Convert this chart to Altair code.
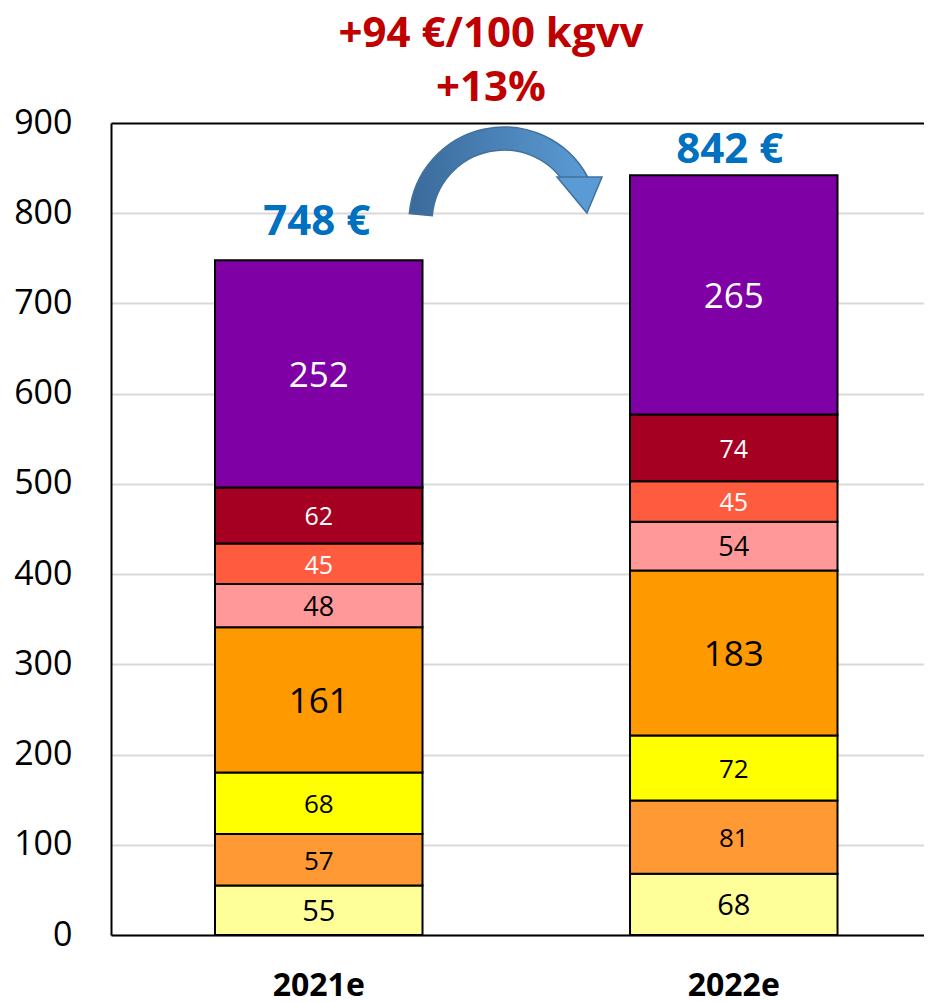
import altair as alt
import pandas as pd

years = ["2021e", "2022e"]
series = ["s1", "s2", "s3", "s4", "s5", "s6", "s7", "s8"]
values_2021 = [55, 57, 68, 161, 48, 45, 62, 252]
values_2022 = [68, 81, 72, 183, 54, 45, 74, 265]
totals = [748, 842]
total_labels = ["748 €", "842 €"]
bar_colors = ["#FFFF99", "#FF9933", "#FFFF00", "#FF9900", "#FF9999", "#FF5B3F", "#A50021", "#7F00A4"]
label_colors = ["black", "black", "black", "black", "black", "white", "white", "white"]
label_sizes = [29, 26, 26, 35, 27, 25, 25, 35]
y_ticks = [0, 100, 200, 300, 400, 500, 600, 700, 800, 900]
annotation_lines = ["+94 €/100 kgvv", "+13%"]

FONT = "Open Sans"
W, H = 813, 812

rows = []
for yr, vals in zip(years, [values_2021, values_2022]):
    for i, (s, v) in enumerate(zip(series, vals)):
        rows.append({"year": yr, "series": s, "order": i, "value": v})
df = pd.DataFrame(rows)

x_enc = alt.X(
    "year:N",
    sort=years,
    title=None,
    scale=alt.Scale(paddingInner=0.5, paddingOuter=0.2295, align=0.546),
    axis=alt.Axis(
        labelFont=FONT, labelFontSize=32, labelFontWeight="bold", labelColor="black",
        ticks=False, labelPadding=35, domainColor="black", domainWidth=2, labelAngle=0,
    ),
)
y_scale = alt.Scale(domain=[0, 900], nice=False)

base = alt.Chart(df).transform_window(
    cum="sum(value)", frame=[None, 0], groupby=["year"], sort=[{"field": "order"}]
).transform_calculate(
    y0="datum.cum - datum.value", mid="datum.cum - datum.value / 2"
)

bars = base.mark_bar(stroke="black", strokeWidth=2).encode(
    x=x_enc,
    y=alt.Y(
        "y0:Q", scale=y_scale, title=None,
        axis=alt.Axis(
            values=y_ticks, labelFont=FONT, labelFontSize=34, labelColor="black",
            ticks=False, labelPadding=39, domainColor="black", domainWidth=2,
            gridColor={"condition": {"test": "datum.value === 900", "value": "black"}, "value": "#D9D9D9"},
            gridWidth=2,
        ),
    ),
    y2="cum:Q",
    color=alt.Color("series:N", scale=alt.Scale(domain=series, range=bar_colors), legend=None),
    order=alt.Order("order:Q"),
)

# segment labels, one layer per font size
seg_layers = []
for fs in sorted(set(label_sizes)):
    group = [s for s, z in zip(series, label_sizes) if z == fs]
    seg_layers.append(
        base.transform_filter(alt.FieldOneOfPredicate(field="series", oneOf=group))
        .mark_text(font=FONT, fontSize=fs, baseline="middle", align="center", dy=2)
        .encode(
            x=alt.X("year:N", sort=years),
            y=alt.Y("mid:Q", scale=y_scale),
            text=alt.Text("value:Q"),
            color=alt.Color("series:N", scale=alt.Scale(domain=series, range=label_colors), legend=None),
        )
    )

tot_df = pd.DataFrame({"year": years, "total": totals, "label": total_labels})
tot1 = alt.Chart(tot_df).transform_filter(alt.datum.year == years[0]).mark_text(
    font=FONT, fontWeight="bold", fontSize=42, color="#0070C0", baseline="alphabetic", dy=-25, dx=-2
).encode(x=alt.X("year:N", sort=years), y=alt.Y("total:Q", scale=y_scale), text="label:N")
tot2 = alt.Chart(tot_df).transform_filter(alt.datum.year == years[1]).mark_text(
    font=FONT, fontWeight="bold", fontSize=42, color="#0070C0", baseline="alphabetic", dy=-12, dx=-4
).encode(x=alt.X("year:N", sort=years), y=alt.Y("total:Q", scale=y_scale), text="label:N")

ann_df = pd.DataFrame({"line": annotation_lines})
ann1 = alt.Chart(ann_df).transform_filter(alt.datum.line == annotation_lines[0]).mark_text(
    font=FONT, fontWeight="bold", fontSize=42, color="#C00000", baseline="alphabetic", align="center"
).encode(x=alt.value(380), y=alt.value(-76), text="line:N")
ann2 = alt.Chart(ann_df).transform_filter(alt.datum.line == annotation_lines[1]).mark_text(
    font=FONT, fontWeight="bold", fontSize=42, color="#C00000", baseline="alphabetic", align="center"
).encode(x=alt.value(380), y=alt.value(-22), text="line:N")

arrow_df = pd.DataFrame({"k": [1]})
arc = alt.Chart(arrow_df).mark_arc(
    innerRadius=72, outerRadius=95, theta=4.80, theta2=7.363,
    fill=alt.Gradient(
        gradient="linear",
        stops=[alt.GradientStop(color="#3A6A9A", offset=0), alt.GradientStop(color="#5B9BD5", offset=1)],
        x1=0, x2=1, y1=0, y2=0,
    ),
    stroke="#41719C", strokeWidth=1.5,
).encode(x=alt.value(393), y=alt.value(99))
head = alt.Chart(arrow_df).mark_point(
    shape="M-1,-0.8L1,-0.8L0.33,0.8Z", size=2025, filled=True, fill="#5B9BD5",
    stroke="#41719C", strokeWidth=1.5, opacity=1,
).encode(x=alt.value(468.5), y=alt.value(72))

chart = alt.layer(bars, *seg_layers, tot1, tot2, ann1, ann2, arc, head).resolve_scale(
    color="independent"
).properties(
    width=W, height=H,
    autosize=alt.AutoSizeParams(type="none"),
    padding={"left": 103, "top": 115, "right": 0, "bottom": 64},
).configure_view(stroke=None).configure(background="white")

chart.save("out.html", embed_options={"renderer": "svg", "actions": False})
